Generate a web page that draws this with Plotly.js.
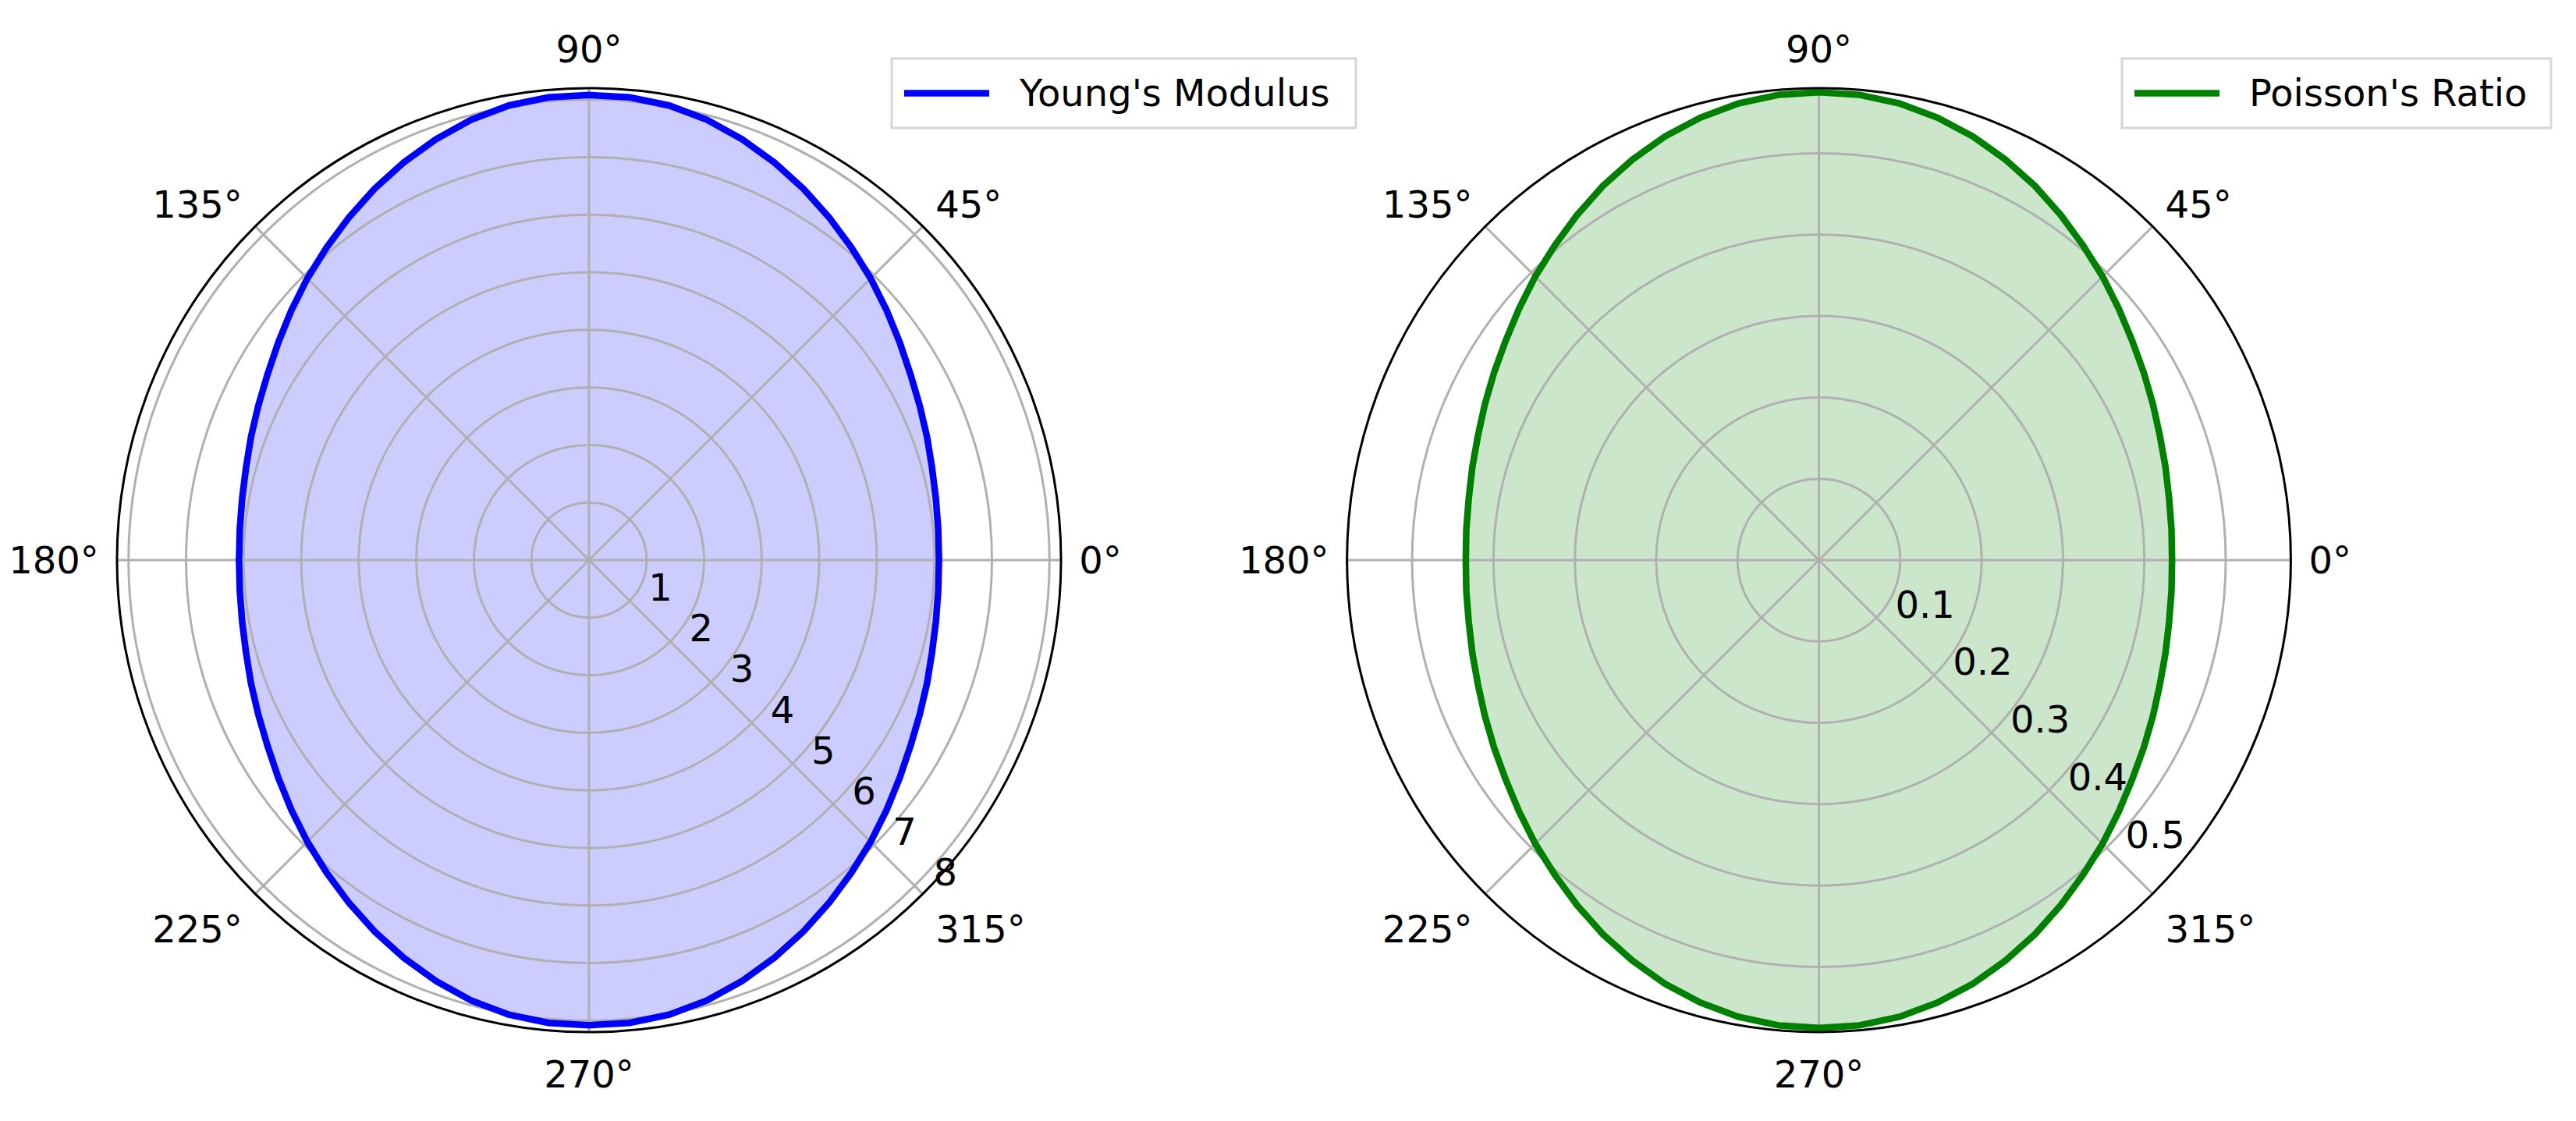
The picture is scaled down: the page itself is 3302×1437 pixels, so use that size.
<!DOCTYPE html>
<html>
<head>
<meta charset="utf-8">
<script src="https://cdn.plot.ly/plotly-3.0.1.min.js"></script>
<style>
  html, body { margin: 0; padding: 0; background: #fff; }
  #plotZone { width: 3302px; height: 1437px; }
</style>
</head>
<body>
<div id="plotZone"></div>
<script>
// angles in degrees, closed loop
var theta = [0, 5, 10, 15, 20, 25, 30, 35, 40, 45, 50, 55, 60, 65, 70, 75, 80, 85,
             90, 95, 100, 105, 110, 115, 120, 125, 130, 135, 140, 145, 150, 155, 160, 165, 170, 175,
             180, 185, 190, 195, 200, 205, 210, 215, 220, 225, 230, 235, 240, 245, 250, 255, 260, 265,
             270, 275, 280, 285, 290, 295, 300, 305, 310, 315, 320, 325, 330, 335, 340, 345, 350, 355, 360];
// values
var youngs = [6.08, 6.09, 6.12, 6.17, 6.25, 6.34, 6.45, 6.59, 6.75, 6.92, 7.09, 7.27, 7.45, 7.62, 7.78, 7.92, 8.02, 8.07,
              8.08, 8.07, 8.02, 7.92, 7.78, 7.62, 7.45, 7.27, 7.09, 6.92, 6.75, 6.59, 6.45, 6.34, 6.25, 6.17, 6.12, 6.09,
              6.08, 6.09, 6.12, 6.17, 6.25, 6.34, 6.45, 6.59, 6.75, 6.92, 7.09, 7.27, 7.45, 7.62, 7.78, 7.92, 8.02, 8.07,
              8.08, 8.07, 8.02, 7.92, 7.78, 7.62, 7.45, 7.27, 7.09, 6.92, 6.75, 6.59, 6.45, 6.34, 6.25, 6.17, 6.12, 6.09, 6.08];
var poisson = [0.434, 0.435, 0.437, 0.441, 0.446, 0.453, 0.461, 0.470, 0.481, 0.493, 0.505, 0.518, 0.531, 0.543, 0.554, 0.563, 0.570, 0.574,
               0.575, 0.574, 0.570, 0.563, 0.554, 0.543, 0.531, 0.518, 0.505, 0.493, 0.481, 0.470, 0.461, 0.453, 0.446, 0.441, 0.437, 0.435,
               0.434, 0.435, 0.437, 0.441, 0.446, 0.453, 0.461, 0.470, 0.481, 0.493, 0.505, 0.518, 0.531, 0.543, 0.554, 0.563, 0.570, 0.574,
               0.575, 0.574, 0.570, 0.563, 0.554, 0.543, 0.531, 0.518, 0.505, 0.493, 0.481, 0.470, 0.461, 0.453, 0.446, 0.441, 0.437, 0.435, 0.434];
var youngTicks = [1, 2, 3, 4, 5, 6, 7, 8];
var poissonTicks = [0.1, 0.2, 0.3, 0.4, 0.5];
var seriesNames = ["Young's Modulus", "Poisson's Ratio"];

var FONT = 'DejaVu Sans, Liberation Sans, sans-serif';
var FS = 48;
var GRID = '#b0b0b0';

// fill sits on a lower subplot so the grid of the upper one is drawn over it
function fillTrace(r, sub, col){
    return {type: 'scatterpolar', r: r, theta: theta, subplot: sub,
        mode: 'none', fill: 'toself', fillcolor: col,
        hoverinfo: 'skip', showlegend: false};
}
function lineTrace(r, sub, col, name){
    return {type: 'scatterpolar', r: r, theta: theta, subplot: sub,
        mode: 'lines', name: name, showlegend: false,
        line: {color: col, width: 8.5}};
}

var data = [
    fillTrace(youngs, 'polar', 'rgba(0,0,255,0.2)'),
    fillTrace(poisson, 'polar2', 'rgba(0,128,0,0.2)'),
    lineTrace(youngs, 'polar3', '#0000ff', seriesNames[0]),
    lineTrace(poisson, 'polar4', '#008000', seriesNames[1])
];

var DOMY = [0.0793, 0.9214];
var leftDom = [0.0454, 0.4119];
var rightDom = [0.5229, 0.8893];

function underAxes(dom, rmax){
    return {
        domain: {x: dom, y: DOMY},
        bgcolor: '#fff',
        angularaxis: {visible: false, direction: 'counterclockwise', rotation: 0},
        radialaxis: {visible: false, range: [0, rmax]}
    };
}

function polarAxes(dom, rmax, ticks){
    return {
        domain: {x: dom, y: DOMY},
        bgcolor: 'rgba(0,0,0,0)',
        angularaxis: {
            direction: 'counterclockwise', rotation: 0,
            dtick: 45, ticksuffix: '°',
            ticks: 'outside', ticklen: 12, tickcolor: 'rgba(0,0,0,0)',
            showgrid: true, gridcolor: GRID, gridwidth: 3,
            showline: true, linecolor: '#000', linewidth: 3,
            tickfont: {family: FONT, size: FS, color: '#000'}
        },
        radialaxis: {
            range: [0, rmax], angle: 315, side: 'counterclockwise', tickangle: -45,
            tickmode: 'array', tickvals: ticks, ticks: '',
            showline: false, showgrid: true, gridcolor: GRID, gridwidth: 3,
            tickfont: {family: FONT, size: FS, color: '#000'}
        }
    };
}

// legend frames drawn by hand: box, long handle, label
function boxPath(x0, y0, x1, y1){
    return 'M' + x0 + ',' + y0 + ' L' + x1 + ',' + y0 + ' L' + x1 + ',' + y1 +
        ' L' + x0 + ',' + y1 + ' Z';
}
var W = 3302, H = 1437;
function px(x){ return x / W; }
function py(y){ return 1 - y / H; }

var legends = [
    {box: [1143, 75, 1738, 164], h0: 1159, h1: 1268, tx: 1304, col: '#0000ff', name: seriesNames[0]},
    {box: [2720, 75, 3270, 164], h0: 2736, h1: 2845, tx: 2881, col: '#008000', name: seriesNames[1]}
];
var shapes = [];
var annotations = [];
legends.forEach(function(L){
    var b = L.box;
    shapes.push({type: 'path', xref: 'paper', yref: 'paper',
        path: boxPath(px(b[0]), py(b[1]), px(b[2]), py(b[3])),
        line: {color: '#d6d6d6', width: 3}, fillcolor: 'rgba(255,255,255,0.8)'});
    var yc = (b[1] + b[3]) / 2;
    shapes.push({type: 'line', xref: 'paper', yref: 'paper',
        x0: px(L.h0), x1: px(L.h1), y0: py(yc), y1: py(yc),
        line: {color: L.col, width: 8.5}});
    annotations.push({xref: 'paper', yref: 'paper', x: px(L.tx), y: py(yc),
        xanchor: 'left', yanchor: 'middle', showarrow: false, text: L.name,
        font: {family: FONT, size: FS, color: '#000'}});
});

var layout = {
    width: W, height: H,
    margin: {l: 0, r: 0, t: 0, b: 0},
    paper_bgcolor: '#fff',
    font: {family: FONT, size: FS, color: '#000'},
    showlegend: false,
    polar: underAxes(leftDom, 8.2),
    polar2: underAxes(rightDom, 0.58),
    polar3: polarAxes(leftDom, 8.2, youngTicks),
    polar4: polarAxes(rightDom, 0.58, poissonTicks),
    shapes: shapes,
    annotations: annotations
};

Plotly.newPlot('plotZone', data, layout, {displayModeBar: false, staticPlot: true});
</script>
</body>
</html>
